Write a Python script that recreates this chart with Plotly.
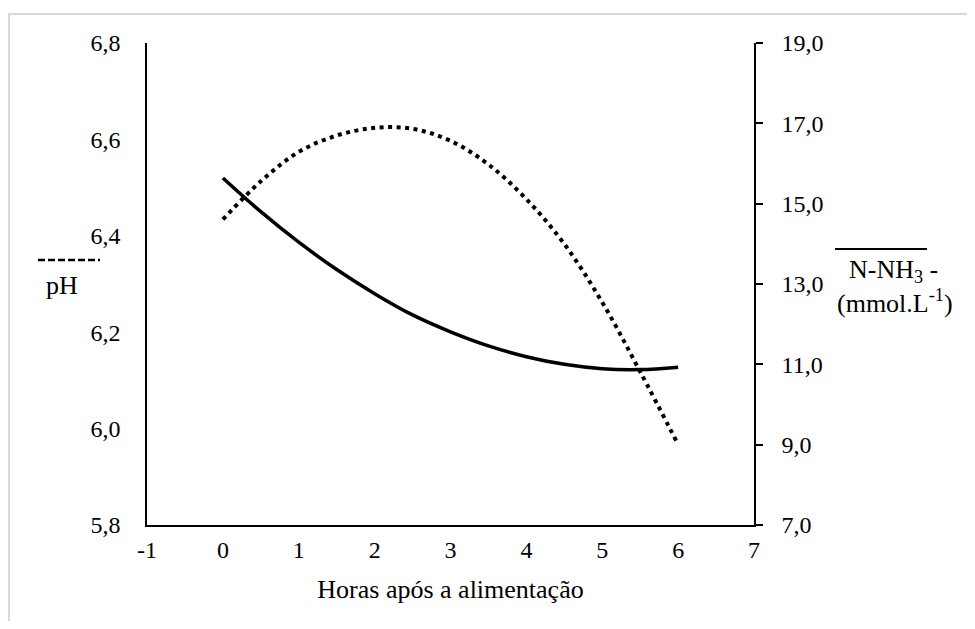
import plotly.graph_objects as go

# Data
horas = [0, 0.5, 1, 1.5, 2, 2.5, 3, 3.5, 4, 4.5, 5, 5.5, 6]
ph_values = [6.434, 6.513, 6.574, 6.608, 6.624, 6.622, 6.597, 6.548, 6.476, 6.383, 6.262, 6.118, 5.967]
nnh3_values = [15.64, 14.80, 14.04, 13.36, 12.76, 12.23, 11.81, 11.46, 11.19, 11.00, 10.89, 10.87, 10.93]

x_tickvals = [-1, 0, 1, 2, 3, 4, 5, 6, 7]
x_ticktext = ["-1", "0", "1", "2", "3", "4", "5", "6", "7"]

FONT = "Liberation Serif"
OFF = 8  # default body margin of the html page
W, H = 975 - 2 * OFF, 629 - 2 * OFF
# plot area in page pixels
PL, PR, PT, PB = 147, 754, 43, 525
L, R, T, B = PL - OFF, PR - OFF, PT - OFF, PB - OFF


def px_x(px):
    return (px - PL) / (PR - PL)


def px_y(py):
    return (PB - py) / (PB - PT)


fig = go.Figure()
fig.add_trace(go.Scatter(
    x=horas, y=ph_values, mode="lines", name="pH",
    line=dict(color="black", width=4, dash="4px,4.5px", shape="spline"),
    yaxis="y", showlegend=False,
))
fig.add_trace(go.Scatter(
    x=horas, y=nnh3_values, mode="lines", name="N-NH3",
    line=dict(color="black", width=3.5, shape="spline"),
    yaxis="y2", showlegend=False,
))

axis_font = dict(family=FONT, size=24, color="black")
title_font = dict(family=FONT, size=26, color="black")

fig.update_layout(
    width=W, height=H,
    margin=dict(l=L, r=W - R, t=T, b=H - B, autoexpand=False),
    paper_bgcolor="white", plot_bgcolor="white",
    separators=",.",
    font=axis_font,
    xaxis=dict(
        range=[-1, 7], tickvals=x_tickvals, ticktext=x_ticktext,
        showline=True, linecolor="black", linewidth=1.5,
        showgrid=False, zeroline=False, ticks="",
        tickfont=axis_font, ticklabelstandoff=2,
        title=dict(text="Horas após a alimentação", font=title_font, standoff=18),
    ),
    yaxis=dict(
        range=[5.8, 6.8], dtick=0.2, tick0=5.8, tickformat=".1f",
        showline=True, linecolor="black", linewidth=1.5,
        showgrid=False, zeroline=False, ticks="",
        tickfont=axis_font, ticklabelstandoff=20,
    ),
    yaxis2=dict(
        range=[7, 19], dtick=2, tick0=7, tickformat=".1f",
        overlaying="y", side="right", anchor="x",
        showline=True, linecolor="black", linewidth=1.5,
        showgrid=False, zeroline=False,
        ticks="outside", ticklen=7, tickwidth=1.5, tickcolor="black",
        tickfont=axis_font, ticklabelstandoff=14,
    ),
)

shapes = [
    # chart-area border
    dict(type="rect", xref="paper", yref="paper",
         x0=px_x(9), x1=px_x(1000), y0=px_y(660), y1=px_y(14),
         line=dict(color="#d9d9d9", width=2), layer="below"),
    # dashed legend line for pH
    dict(type="line", xref="paper", yref="paper",
         x0=px_x(38), x1=px_x(100), y0=px_y(260), y1=px_y(260),
         line=dict(color="black", width=2.5, dash="7px,3px")),
    # solid legend line for N-NH3
    dict(type="line", xref="paper", yref="paper",
         x0=px_x(835), x1=px_x(927), y0=px_y(249), y1=px_y(249),
         line=dict(color="black", width=2)),
]

annotations = [
    dict(text="pH", xref="paper", yref="paper", x=px_x(62), y=px_y(285),
         showarrow=False, font=title_font, xanchor="center", yanchor="middle"),
    dict(text="N-NH<sub>3</sub> -", xref="paper", yref="paper", x=px_x(893), y=px_y(271),
         showarrow=False, font=title_font, xanchor="center", yanchor="middle"),
    dict(text="(mmol.L<sup>-1</sup>)", xref="paper", yref="paper", x=px_x(895), y=px_y(301),
         showarrow=False, font=title_font, xanchor="center", yanchor="middle"),
]

fig.update_layout(shapes=shapes, annotations=annotations)
fig.write_html("out.html")
